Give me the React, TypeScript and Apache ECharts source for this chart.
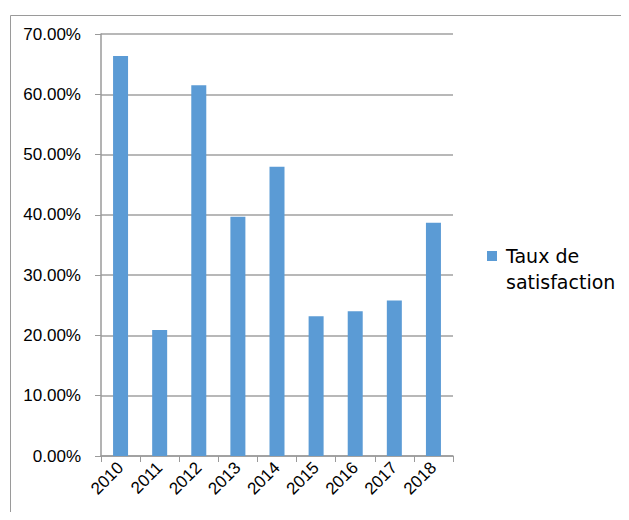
import React, { useEffect, useRef } from "react";
import * as echarts from "echarts";

const years = ["2010", "2011", "2012", "2013", "2014", "2015", "2016", "2017", "2018"];
const satisfaction = [0.6635, 0.209, 0.615, 0.397, 0.48, 0.232, 0.24, 0.258, 0.387];
const seriesName = "Taux de satisfaction";

export default function App() {
  const ref = useRef<HTMLDivElement>(null);
  useEffect(() => {
    if (!ref.current) return;
    const chart = echarts.init(ref.current, null, { renderer: "svg" });
    chart.setOption({
      animation: false,
      graphic: [
        {
          type: "rect",
          left: 0,
          top: 5,
          shape: { width: 700, height: 600 },
          style: { fill: "none", stroke: "#9a9a9a", lineWidth: 1 },
          silent: true,
          z: -1,
        },
      ],
      grid: { left: 93, top: 26, width: 352, height: 422, containLabel: false },
      legend: {
        left: 479,
        top: 209,
        padding: 0,
        icon: "rect",
        itemWidth: 10,
        itemHeight: 10,
        itemGap: 6,
        data: [seriesName],
        formatter: () => " \nTaux de\nsatisfaction",
        textStyle: {
          fontFamily: "DejaVu Sans",
          fontSize: 19,
          color: "#000",
          lineHeight: 26,
          padding: [0, 0, 0, 4],
        },
      },
      xAxis: {
        type: "category",
        data: years,
        axisLine: { lineStyle: { color: "#9a9a9a", width: 1.5 } },
        axisTick: { show: true, length: 6, lineStyle: { color: "#9a9a9a" } },
        axisLabel: {
          rotate: 45,
          color: "#000",
          fontFamily: "Liberation Sans",
          fontSize: 17,
          margin: 9,
          interval: 0,
        },
      },
      yAxis: {
        type: "value",
        min: 0,
        max: 0.7,
        interval: 0.1,
        axisLine: { show: true, lineStyle: { color: "#9a9a9a", width: 1.5 } },
        axisTick: { show: true, length: 6, lineStyle: { color: "#9a9a9a" } },
        splitLine: { lineStyle: { color: "#a0a0a0", width: 1.5 } },
        axisLabel: {
          color: "#000",
          fontFamily: "Liberation Sans",
          fontSize: 17,
          margin: 20,
          formatter: (v: number) => (v * 100).toFixed(2) + "%",
        },
      },
      series: [
        {
          name: seriesName,
          type: "bar",
          data: satisfaction,
          barWidth: 15,
          itemStyle: { color: "#5B9BD5" },
        },
      ],
    });
    return () => chart.dispose();
  }, []);
  return <div ref={ref} style={{ width: 613, height: 504 }} />;
}
